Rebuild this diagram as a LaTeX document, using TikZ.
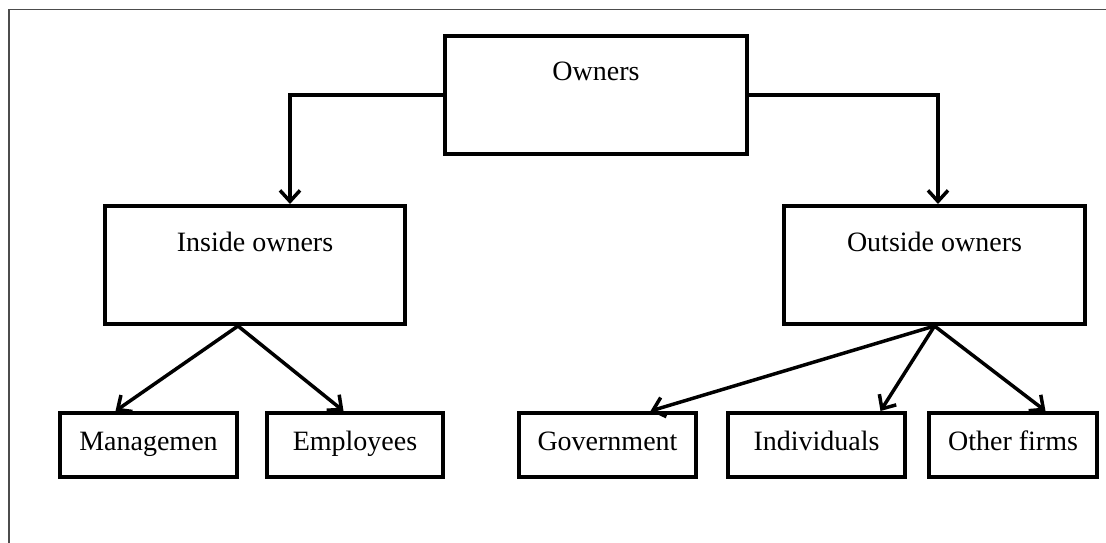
\documentclass[tikz,border=0pt]{standalone}
\usepackage{fontspec}
\setmainfont{Liberation Serif}
\usetikzlibrary{arrows.meta}

\begin{document}
\begin{tikzpicture}[x=1pt,y=-1pt,->,>={Straight Barb[length=11pt,width=20pt]},line width=3.5pt,
        box/.style={rectangle,draw=black,line width=4pt,inner sep=0,anchor=north west,font=\fontsize{28}{32}\selectfont},
        bigbox/.style={box,minimum width=#1,text height=45pt,text depth=73pt},
        leafbox/.style={box,minimum width=#1,text height=37pt,text depth=27pt}]
        \useasboundingbox (0,0) rectangle (1106,543);
        \draw[-,line width=1.5pt,black!70] (9,543) -- (9,9.5) -- (1106,9.5);
        \node[bigbox=302]  (own)     at (443,34)  {Owners};
        \node[bigbox=300]  (inside)  at (103,204) {Inside owners};
        \node[bigbox=301]  (outside) at (782,204) {Outside owners};
        \node[leafbox=177] (mgmt)    at (58,411)  {Managemen};
        \node[leafbox=176] (empl)    at (265,411) {Employees};
        \node[leafbox=177] (gov)     at (517,411) {Government};
        \node[leafbox=177] (indiv)   at (726,411) {Individuals};
        \node[leafbox=168] (firms)   at (927,411) {Other firms};
        \draw (own.west) -| ([xshift=35pt]inside.north);
        \draw (own.east) -| ([xshift=3.5pt]outside.north);
        \path
          ([xshift=-17pt]inside.south) edge ([xshift=-33pt]mgmt.north)
          ([xshift=-17pt]inside.south) edge ([xshift=-11.5pt]empl.north)
          (outside.south) edge ([xshift=43pt]gov.north)
          (outside.south) edge ([xshift=64pt]indiv.north)
          (outside.south) edge ([xshift=32.5pt]firms.north)
          ;
      \end{tikzpicture}
\end{document}
